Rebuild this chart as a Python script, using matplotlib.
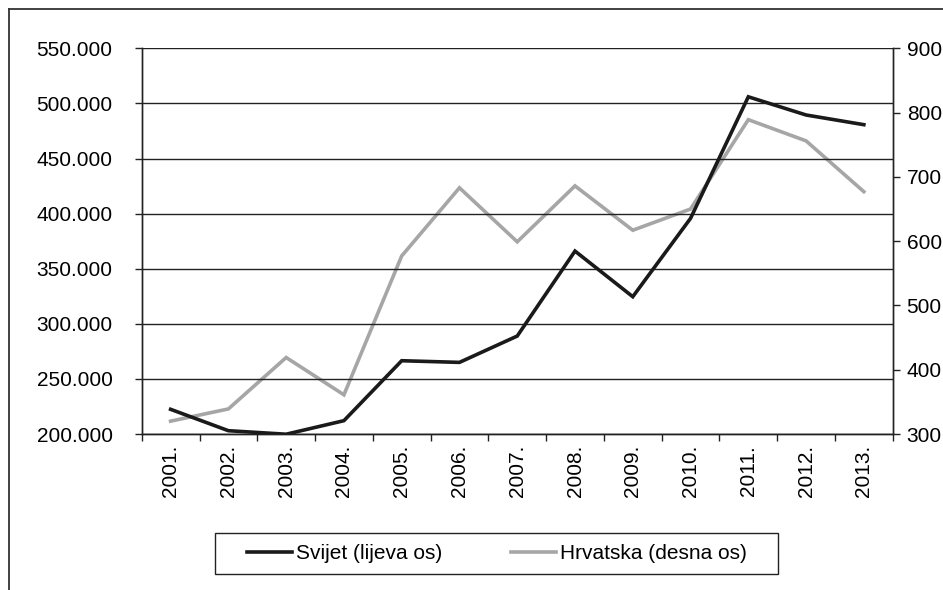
import matplotlib
matplotlib.use("Agg")
import matplotlib.pyplot as plt
from matplotlib.lines import Line2D
from matplotlib.patches import Rectangle
import numpy as np

plt.rcParams['font.family'] = ['Liberation Sans', 'DejaVu Sans']

years = ["2001.", "2002.", "2003.", "2004.", "2005.", "2006.", "2007.",
         "2008.", "2009.", "2010.", "2011.", "2012.", "2013."]
svijet = [222400, 203000, 199800, 212100, 266500, 265000, 288900,
          366000, 324600, 395700, 506000, 489500, 480700]
hrvatska = [320, 339, 419, 361, 577, 683, 599, 686, 617, 650, 789, 756, 677]
left_ticks = [200000, 250000, 300000, 350000, 400000, 450000, 500000, 550000]
left_labels = ["200.000", "250.000", "300.000", "350.000", "400.000",
               "450.000", "500.000", "550.000"]
right_ticks = [300, 400, 500, 600, 700, 800, 900]
label_svijet = "Svijet (lijeva os)"
label_hrv = "Hrvatska (desna os)"

FS = 15

fig = plt.figure(figsize=(9.43, 5.9), dpi=100)
ax = fig.add_axes([0.1503, 0.2644, 0.7964, 0.6537])
ax2 = ax.twinx()

x = np.arange(len(years))
l1, = ax.plot(x, svijet, color='#1a1a1a', lw=2.6, solid_joinstyle='miter', zorder=4)
l2, = ax2.plot(x, hrvatska, color='#a6a6a6', lw=2.6, solid_joinstyle='miter', zorder=3)
ax.set_zorder(ax2.get_zorder() + 1)
ax.patch.set_visible(False)

ax.set_xlim(-0.5, len(years) - 0.5)
ax.set_ylim(200000, 550000)
ax2.set_ylim(300, 900)

ax.set_yticks(left_ticks)
ax.set_yticklabels(left_labels)
ax2.set_yticks(right_ticks)
ax2.set_yticklabels([str(v) for v in right_ticks])

ax.set_xticks(x)
ax.set_xticklabels(years, rotation=90)
ax.set_xticks(np.arange(len(years) + 1) - 0.5, minor=True)
ax.tick_params(axis='x', which='major', length=0, pad=8, labelsize=FS)
ax.tick_params(axis='x', which='minor', length=5, width=1, color='#222222', direction='out')
ax.tick_params(axis='y', length=5, width=1, color='#222222', pad=16, labelsize=FS)
ax2.tick_params(axis='y', length=5, width=1, color='#222222', pad=5, labelsize=FS)

ax.grid(axis='y', color='#222222', lw=1)
ax.set_axisbelow(True)

for a in (ax, ax2):
    a.spines['top'].set_visible(False)
    for s in ('left', 'right', 'bottom'):
        a.spines[s].set_color('#222222')
        a.spines[s].set_linewidth(1)

leg = fig.legend([l1, l2], [label_svijet, label_hrv], loc='center',
                 bbox_to_anchor=(0.5265, 0.0619), ncol=2, frameon=False,
                 fontsize=FS, handlelength=2.2, handletextpad=0.15,
                 columnspacing=3.3, borderpad=0.55, borderaxespad=0)

# legend box
fig.add_artist(Rectangle((215 / 943, 1 - 574 / 590), 563 / 943, 41 / 590,
                         transform=fig.transFigure, fill=False,
                         edgecolor='#222222', lw=1))

# outer frame (left and top edges)
fx = 8.7 / 943
fy = 1 - 9 / 590
fig.add_artist(Line2D([fx, fx], [fy, -0.01], transform=fig.transFigure,
                      color='#333333', lw=1.3))
fig.add_artist(Line2D([fx, 1.01], [fy, fy], transform=fig.transFigure,
                      color='#333333', lw=1.3))

fig.savefig("out.png", dpi=100)
